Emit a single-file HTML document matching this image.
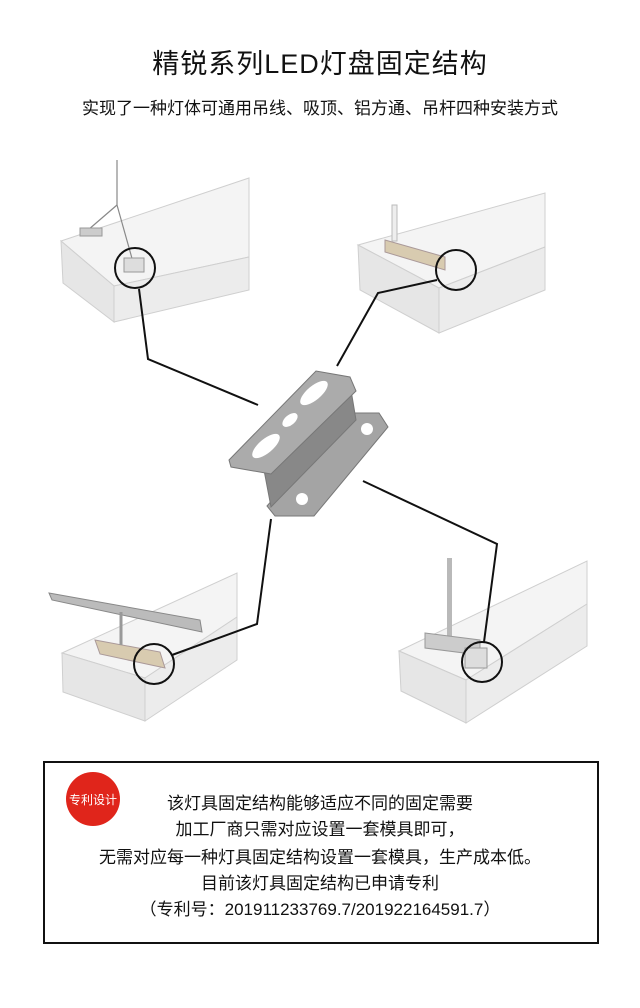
<!DOCTYPE html>
<html><head><meta charset="utf-8"><style>
body{margin:0;width:640px;height:1008px;background:#fff;overflow:hidden;position:relative;font-family:"Liberation Sans","Noto Sans CJK SC",sans-serif;color:#111}
.t{position:absolute;left:0;width:640px;text-align:center;white-space:nowrap}
</style></head><body>
<div class="t" style="top:42px;font-size:27px;letter-spacing:1px">精锐系列LED灯盘固定结构</div>
<div class="t" style="top:94px;font-size:17px">实现了一种灯体可通用吊线、吸顶、铝方通、吊杆四种安装方式</div>
<svg width="640" height="1008" style="position:absolute;left:0;top:0">
<g stroke="#cfcfcf" stroke-width="1">
<polygon points="61,241 249,178 249,257 114,286" fill="#f4f4f4"/>
<polygon points="61,241 114,286 114,322 63,283" fill="#e6e6e6"/>
<polygon points="114,286 249,257 249,290 114,322" fill="#ececec"/>
<polygon points="358,245 545,193 545,247 439,288" fill="#f4f4f4"/>
<polygon points="358,245 439,288 439,333 360,290" fill="#e6e6e6"/>
<polygon points="439,288 545,247 545,290 439,333" fill="#ececec"/>
<polygon points="62,653 237,573 237,617 145,678" fill="#f4f4f4"/>
<polygon points="62,653 145,678 145,721 63,692" fill="#e6e6e6"/>
<polygon points="145,678 237,617 237,660 145,721" fill="#ececec"/>
<polygon points="399,651 587,561 587,604 466,680" fill="#f4f4f4"/>
<polygon points="399,651 466,680 466,723 401,691" fill="#e6e6e6"/>
<polygon points="466,680 587,604 587,646 466,723" fill="#ececec"/>
</g>
<g stroke="#888" stroke-width="1.2" fill="none">
<line x1="117" y1="160" x2="117" y2="205"/><line x1="117" y1="205" x2="88" y2="230"/><line x1="117" y1="205" x2="133" y2="262"/>
</g>
<rect x="80" y="228" width="22" height="8" fill="#ccc" stroke="#999"/>
<rect x="124" y="258" width="20" height="14" fill="#ddd" stroke="#999"/>
<polygon points="385,240 445,257 445,270 385,252" fill="#d8cbb0" stroke="#a99"/>
<rect x="392" y="205" width="5" height="36" fill="#eee" stroke="#bbb"/>
<polygon points="95,640 160,652 165,668 100,654" fill="#d8cbb0" stroke="#a99"/>
<polygon points="49,593 200,620 202,632 52,600" fill="#bbb" stroke="#888"/>
<line x1="121" y1="612" x2="121" y2="645" stroke="#999" stroke-width="3"/>
<rect x="447" y="558" width="5" height="82" fill="#b9b9b9"/>
<polygon points="425,633 480,640 480,655 425,648" fill="#ccc" stroke="#999"/>
<rect x="465" y="648" width="22" height="20" fill="#ddd" stroke="#999"/>
<g fill="none" stroke="#111" stroke-width="2">
<circle cx="135" cy="268" r="20"/><circle cx="456" cy="270" r="20"/>
<circle cx="154" cy="664" r="20"/><circle cx="482" cy="662" r="20"/>
<polyline points="139,289 148,359 258,405"/>
<polyline points="437,280 378,293 337,366"/>
<polyline points="363,481 497,544 484,642"/>
<polyline points="271,519 257,624 172,655"/>
</g>
<g stroke="#777" stroke-width="1">
<polygon points="267,506 350,413 379,413 388,427 314,516 275,516" fill="#a4a4a4"/>
<polygon points="264,470 350,384 356,420 271,507" fill="#888"/>
<polygon points="229,460 316,371 350,377 356,391 271,474 231,467" fill="#ababab"/>
</g>
<g fill="#fff">
<ellipse cx="314" cy="393" rx="17" ry="7" transform="rotate(-40 314 393)"/>
<ellipse cx="266" cy="446" rx="17" ry="7" transform="rotate(-40 266 446)"/>
<ellipse cx="290" cy="420" rx="9" ry="5" transform="rotate(-40 290 420)"/>
<circle cx="367" cy="429" r="6"/><circle cx="302" cy="499" r="6"/>
</g>
<rect x="44" y="762" width="554" height="181" fill="none" stroke="#111" stroke-width="2"/>
<circle cx="93" cy="799" r="27" fill="#e0251b"/>
<text x="93" y="804" font-size="12" fill="#fff" text-anchor="middle" font-family="Liberation Sans,Noto Sans CJK SC,sans-serif">专利设计</text>
</svg>
<div class="t" style="top:789px;font-size:17px">该灯具固定结构能够适应不同的固定需要</div>
<div class="t" style="top:815px;font-size:17px">加工厂商只需对应设置一套模具即可，</div>
<div class="t" style="top:843px;font-size:17px">无需对应每一种灯具固定结构设置一套模具，生产成本低。</div>
<div class="t" style="top:869px;font-size:17px">目前该灯具固定结构已申请专利</div>
<div class="t" style="top:895px;font-size:17px">（专利号：201911233769.7/201922164591.7）</div>
</body></html>
